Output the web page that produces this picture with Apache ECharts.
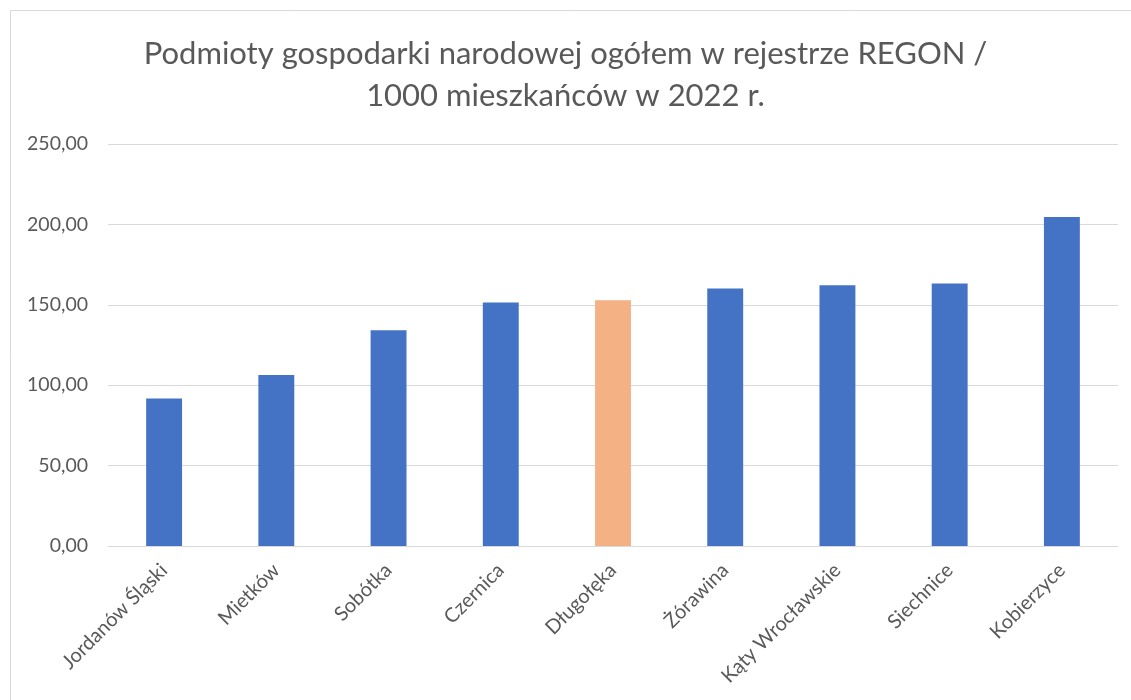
<!DOCTYPE html>
<html lang="pl">
<head>
<meta charset="UTF-8">
<title>Podmioty gospodarki narodowej</title>
<style>
  html, body { margin: 0; padding: 0; background: #fff; }
  #main { width: 1131px; height: 700px; }
</style>
</head>
<body>
<div id="main"></div>
<script src="https://cdn.jsdelivr.net/npm/echarts@6/dist/echarts.min.js"></script>
<script>
var categories = ['Jordanów Śląski', 'Mietków', 'Sobótka', 'Czernica', 'Długołęka', 'Żórawina', 'Kąty Wrocławskie', 'Siechnice', 'Kobierzyce'];
var values = [91.7, 106.3, 134.1, 151.5, 152.9, 160.2, 162.2, 163.2, 204.6];
var highlight = 'Długołęka';
var yTicks = [0, 50, 100, 150, 200, 250];

var chart = echarts.init(document.getElementById('main'));
var font = 'Lato, "Open Sans", sans-serif';

var option = {
  animation: false,
  textStyle: { fontFamily: font },
  title: {
    text: 'Podmioty gospodarki narodowej ogółem w rejestrze REGON /\n1000 mieszkańców w 2022 r.',
    left: 'center',
    top: 28,
    textStyle: { fontSize: 31, fontWeight: 'normal', color: '#595959', lineHeight: 42, fontFamily: font }
  },
  graphic: [{
    type: 'rect',
    shape: { x: 10.5, y: 10.5, width: 1200, height: 800 },
    style: { fill: 'none', stroke: '#d9d9d9', lineWidth: 1 },
    silent: true
  }],
  grid: { left: 108, right: 13, top: 144, bottom: 154 },
  xAxis: {
    type: 'category',
    data: categories,
    axisLine: { lineStyle: { color: '#d9d9d9', width: 1 } },
    axisTick: { show: false },
    axisLabel: {
      rotate: 45,
      interval: 0,
      margin: 21,
      color: '#595959',
      fontSize: 20,
      fontFamily: font
    }
  },
  yAxis: {
    type: 'value',
    min: yTicks[0],
    max: yTicks[yTicks.length - 1],
    interval: 50,
    axisLine: { show: false },
    axisTick: { show: false },
    splitLine: { lineStyle: { color: '#d9d9d9', width: 1 } },
    axisLabel: {
      margin: 20,
      color: '#595959',
      fontSize: 19.5,
      fontFamily: font,
      formatter: function (v) { return v.toFixed(2).replace('.', ','); }
    }
  },
  series: [{
    type: 'bar',
    barWidth: '32%',
    data: values.map(function (v, i) {
      return {
        value: v,
        itemStyle: { color: categories[i] === highlight ? '#f4b183' : '#4472c4' }
      };
    })
  }]
};
chart.setOption(option);
</script>
</body>
</html>
